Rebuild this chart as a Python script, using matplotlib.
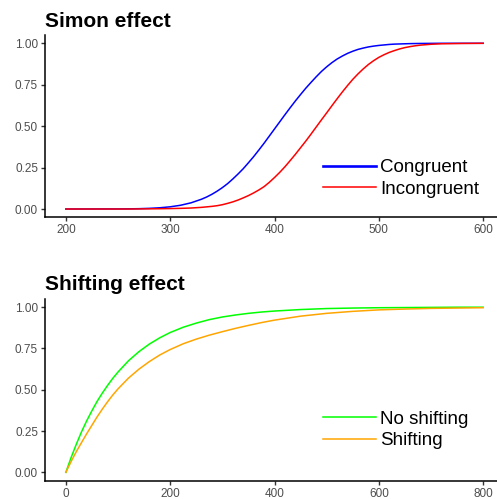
import matplotlib
matplotlib.use("Agg")
import matplotlib.pyplot as plt
from matplotlib.lines import Line2D

plt.rcParams['font.family'] = ['Liberation Sans', 'DejaVu Sans']

# Simon effect: cumulative proportions
simon_rt = [200, 250, 260, 270, 280, 290, 300, 310, 320, 330, 335, 340, 345, 350,
            355, 360, 365, 370, 375, 380, 385, 390, 395, 400, 405, 410, 415, 420,
            425, 430, 435, 440, 445, 450, 455, 460, 465, 470, 475, 480, 485, 490,
            495, 500, 505, 510, 515, 520, 525, 530, 535, 540, 550, 560, 570, 580, 600]
congruent = [0.0, 0.0005, 0.001, 0.002, 0.004, 0.0074, 0.0133, 0.0227, 0.0374, 0.059,
             0.0726, 0.0889, 0.1077, 0.129, 0.153, 0.181, 0.211, 0.243, 0.279, 0.316,
             0.356, 0.397, 0.44, 0.483, 0.526, 0.569, 0.611, 0.652, 0.691, 0.729,
             0.764, 0.798, 0.83, 0.858, 0.883, 0.905, 0.923, 0.939, 0.952, 0.963,
             0.971, 0.978, 0.983, 0.987, 0.99, 0.993, 0.995, 0.996, 0.997, 0.998,
             0.9985, 0.999, 0.9995, 1.0, 1.0, 1.0, 1.0]
incongruent = [0.0, 0.0, 0.0, 0.0005, 0.001, 0.0017, 0.0027, 0.004, 0.006, 0.01,
               0.013, 0.016, 0.02, 0.026, 0.034, 0.043, 0.054, 0.067, 0.081, 0.097,
               0.115, 0.135, 0.161, 0.19, 0.221, 0.255, 0.292, 0.33, 0.37, 0.41, 0.452,
               0.495, 0.538, 0.58, 0.623, 0.665, 0.706, 0.745, 0.782, 0.815, 0.845,
               0.872, 0.895, 0.915, 0.931, 0.945, 0.956, 0.966, 0.974, 0.98, 0.985,
               0.989, 0.994, 0.997, 0.998, 0.999, 1.0]

# Shifting effect
shift_rt = [0, 10, 20, 30, 40, 50, 60, 70, 80, 90, 100, 120, 140, 160, 180, 200,
            225, 250, 275, 300, 325, 350, 375, 400, 450, 500, 550, 600, 650, 700,
            750, 800]
no_shifting = [0.0, 0.089, 0.17, 0.245, 0.312, 0.373, 0.43, 0.48, 0.526, 0.569, 0.607,
               0.675, 0.73, 0.776, 0.814, 0.846, 0.878, 0.903, 0.924, 0.94, 0.952,
               0.962, 0.97, 0.976, 0.985, 0.991, 0.994, 0.996, 0.997, 0.998, 0.999,
               0.999]
shifting = [0.0, 0.065, 0.125, 0.18, 0.234, 0.285, 0.336, 0.383, 0.427, 0.468, 0.505,
            0.57, 0.624, 0.67, 0.71, 0.743, 0.778, 0.806, 0.83, 0.851, 0.871, 0.889,
            0.906, 0.921, 0.945, 0.962, 0.974, 0.983, 0.988, 0.992, 0.994, 0.996]

W, H = 497, 499
fig = plt.figure(figsize=(W / 100, H / 100), dpi=100)


def style(ax):
    for s in ['top', 'right']:
        ax.spines[s].set_visible(False)
    for s in ['left', 'bottom']:
        ax.spines[s].set_linewidth(1.1)
        ax.spines[s].set_color('black')
    ax.tick_params(length=3, width=1.0, color='#333333', labelsize=8.5,
                   labelcolor='#4D4D4D', pad=2)
    ax.set_ylim(-0.05, 1.05)
    ax.set_yticks([0, 0.25, 0.5, 0.75, 1.0])
    ax.set_yticklabels(['0.00', '0.25', '0.50', '0.75', '1.00'])


ax1 = fig.add_axes([45 / W, 1 - 217.3 / H, 459 / W, 182.3 / H])
ax1.plot(simon_rt, congruent, color='#0000FF', lw=1.1)
ax1.plot(simon_rt, incongruent, color='#FF0000', lw=1.1)
style(ax1)
ax1.set_xlim(180, 620)
ax1.set_xticks([200, 300, 400, 500, 600])
ax1.set_title('Simon effect', loc='left', fontsize=15, fontweight='bold', pad=6)
h1 = [Line2D([], [], color='#0000FF', lw=1.9), Line2D([], [], color='#FF0000', lw=1.1)]
ax1.legend(h1, ['Congruent', 'Incongruent'], loc='upper left',
           bbox_to_anchor=(322.7 / W, 1 - 159 / H), bbox_transform=fig.transFigure,
           frameon=False, fontsize=13.5, handlelength=2.85, handletextpad=0.2,
           labelspacing=0.25, borderpad=0, borderaxespad=0)

ax2 = fig.add_axes([45 / W, 1 - 480.6 / H, 459 / W, 181.8 / H])
ax2.plot(shift_rt, no_shifting, color='#00FF00', lw=1.1)
ax2.plot(shift_rt, shifting, color='#FFA500', lw=1.1)
style(ax2)
ax2.set_xlim(-40, 840)
ax2.set_xticks([0, 200, 400, 600, 800])
ax2.set_title('Shifting effect', loc='left', fontsize=15, fontweight='bold', pad=6)
h2 = [Line2D([], [], color='#00FF00', lw=1.1), Line2D([], [], color='#FFA500', lw=1.1)]
ax2.legend(h2, ['No shifting', 'Shifting'], loc='upper left',
           bbox_to_anchor=(322.7 / W, 1 - 410.5 / H), bbox_transform=fig.transFigure,
           frameon=False, fontsize=13.5, handlelength=2.85, handletextpad=0.2,
           labelspacing=0.25, borderpad=0, borderaxespad=0)

fig.savefig('out.png', dpi=100)
